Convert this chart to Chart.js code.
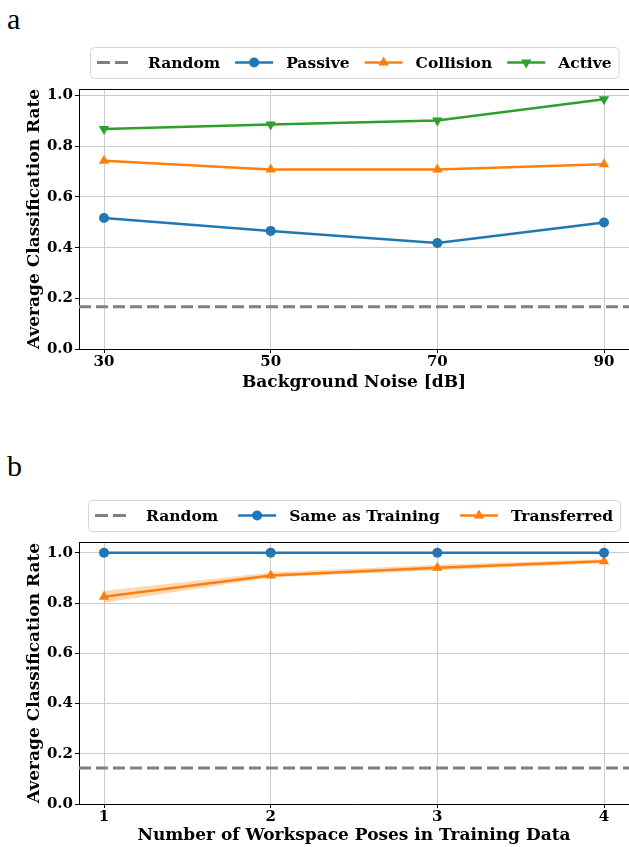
<!DOCTYPE html>
<html><head><meta charset="utf-8">
<script src="https://cdn.jsdelivr.net/npm/chart.js@4.4.1/dist/chart.umd.min.js"></script>
<style>
html,body{margin:0;padding:0;background:#fff;width:629px;height:847px;overflow:hidden;}
.panel{position:absolute;left:0;width:629px;}
.lbl{position:absolute;left:7px;font-family:"Liberation Serif",serif;font-size:30px;color:#000;line-height:1;}
</style></head><body>
<div class="lbl" style="top:4px">a</div>
<div class="panel" style="top:0;height:400px"><canvas id="ca"></canvas></div>
<div class="lbl" style="top:451px">b</div>
<div class="panel" style="top:440px;height:407px"><canvas id="cb"></canvas></div>
<script>
// ---------- data ----------
const noiseLevels = [30, 50, 70, 90];
const passiveRate = [0.517, 0.466, 0.418, 0.499];
const collisionRate = [0.743, 0.708, 0.708, 0.729];
const activeRate = [0.868, 0.886, 0.902, 0.986];
const randomRateA = 1 / 6;
const noiseTicks = [30, 50, 70, 90];
const noiseRange = [27, 93];

const poseCounts = [1, 2, 3, 4];
const sameRate = [1.0, 1.0, 1.0, 1.0];
const transferredRate = [0.825, 0.910, 0.940, 0.966];
const transferredLow = [0.801, 0.902, 0.931, 0.958];
const transferredHigh = [0.849, 0.922, 0.952, 0.974];
const randomRateB = 1 / 7;
const poseTicks = [1, 2, 3, 4];
const poseRange = [0.85, 4.15];

const rateTicks = [0, 0.2, 0.4, 0.6, 0.8, 1.0];
const rateMaxA = 1.026;
const rateMaxB = 1.043;

// ---------- style ----------
const C_BLUE = '#1f77b4', C_ORANGE = '#ff7f0e', C_GREEN = '#2ca02c', C_GRAY = '#808080';
const FAM = '"DejaVu Serif", serif';
const tickFont = {family: FAM, size: 15, weight: 'bold'};
const titleFont = {family: FAM, size: 17, weight: 'bold'};

const pts = (xs, ys) => xs.map((x, i) => ({x: x, y: ys[i]}));

function lineDs(label, xs, ys, color, style, rot, r) {
  return {label, data: pts(xs, ys), borderColor: color, backgroundColor: color,
    pointBackgroundColor: color, pointBorderWidth: 0, borderWidth: 2.5,
    pointStyle: style, pointRotation: rot || 0, pointRadius: r, pointHoverRadius: r,
    fill: false, tension: 0};
}
function randomDs(range, val) {
  return {label: 'Random', data: [{x: range[0], y: val}, {x: range[1], y: val}],
    borderColor: C_GRAY, backgroundColor: C_GRAY, borderWidth: 3, borderDash: [12, 5],
    pointRadius: 0, fill: false};
}

const frameTop = {
  id: 'frameTop',
  afterDraw(chart) {
    const {ctx, chartArea: a} = chart;
    ctx.save(); ctx.strokeStyle = '#000'; ctx.lineWidth = 1;
    ctx.beginPath(); ctx.moveTo(a.left, a.top + 0.5); ctx.lineTo(a.right, a.top + 0.5); ctx.stroke();
    ctx.restore();
  }
};

const boxLegend = {
  id: 'boxLegend',
  afterDraw(chart, args, o) {
    const ctx = chart.ctx, ca = chart.chartArea;
    ctx.save();
    ctx.font = o.font;
    const items = chart.data.datasets.filter(d => !d.legendHide);
    const widths = items.map(d => ctx.measureText(d.label).width);
    const total = o.pad * 2 + items.length * (o.handle + o.textPad) +
      widths.reduce((a, b) => a + b, 0) + (items.length - 1) * o.colSpacing;
    const left = Math.round((ca.left + ca.right) / 2 - total / 2);
    ctx.beginPath();
    ctx.roundRect(left + 0.5, o.top + 0.5, total, o.height, 4);
    ctx.fillStyle = 'rgba(255,255,255,0.85)'; ctx.fill();
    ctx.strokeStyle = '#d6d6d6'; ctx.lineWidth = 1; ctx.stroke();
    let x = left + o.pad;
    const cy = o.top + o.height / 2;
    items.forEach((d, i) => {
      ctx.strokeStyle = d.borderColor; ctx.lineWidth = d.borderWidth;
      const dashed = !!d.borderDash;
      ctx.setLineDash(dashed ? [13, 5] : []);
      ctx.beginPath(); ctx.moveTo(x, cy); ctx.lineTo(x + o.handle - (dashed ? 7 : 0), cy); ctx.stroke();
      ctx.setLineDash([]);
      if (d.pointRadius > 0) {
        ctx.fillStyle = d.borderColor;
        Chart.helpers.drawPoint(ctx, {pointStyle: d.pointStyle, radius: d.pointRadius,
          rotation: d.pointRotation || 0, borderWidth: 0}, x + o.handle / 2, cy);
      }
      ctx.fillStyle = '#000'; ctx.textBaseline = 'middle'; ctx.textAlign = 'left';
      ctx.fillText(d.label, x + o.handle + o.textPad, cy + 1);
      x += o.handle + o.textPad + widths[i] + o.colSpacing;
    });
    ctx.restore();
  }
};

function makeScales(xRange, xTicks, xTitle, yMax, xHeight, xTitlePad) {
  return {
    x: {type: 'linear', min: xRange[0], max: xRange[1],
      afterBuildTicks: s => { s.ticks = xTicks.map(v => ({value: v})); },
      afterFit: s => { s.height = xHeight; s.paddingLeft = 0; s.paddingRight = 0; },
      ticks: {font: tickFont, color: '#000', padding: 0, maxRotation: 0, autoSkip: false,
        callback: v => String(v)},
      grid: {color: '#cccccc', lineWidth: 1, tickLength: 4, tickColor: '#000', tickWidth: 1},
      border: {color: '#000', width: 1},
      title: {display: true, text: xTitle, font: titleFont, color: '#000',
        padding: {top: 0, bottom: xTitlePad}}
    },
    y: {type: 'linear', min: 0, max: yMax,
      afterBuildTicks: s => { s.ticks = rateTicks.map(v => ({value: v})); },
      afterFit: s => { s.width = 79; s.paddingTop = 0; s.paddingBottom = 0; },
      ticks: {font: tickFont, color: '#000', padding: 2, callback: v => v.toFixed(1)},
      grid: {color: '#cccccc', lineWidth: 1, tickLength: 4, tickColor: '#000', tickWidth: 1},
      border: {color: '#000', width: 1},
      title: {display: true, text: 'Average Classification Rate', font: titleFont, color: '#000',
        padding: {top: 24, bottom: 0}}
    }
  };
}

const legendOpts = (top, col) => ({top: top, height: 31, pad: 7, handle: 38, textPad: 13, colSpacing: col,
  font: 'bold 15.5px ' + FAM});

new Chart(document.getElementById('ca'), {
  type: 'line',
  data: {datasets: [
    randomDs(noiseRange, randomRateA),
    lineDs('Passive', noiseLevels, passiveRate, C_BLUE, 'circle', 0, 5),
    lineDs('Collision', noiseLevels, collisionRate, C_ORANGE, 'triangle', 0, 6),
    lineDs('Active', noiseLevels, activeRate, C_GREEN, 'triangle', 180, 6)
  ]},
  options: {
    responsive: true, maintainAspectRatio: false, animation: false,
    layout: {autoPadding: false, padding: {top: 89, right: 0, bottom: 0, left: 0}},
    scales: makeScales(noiseRange, noiseTicks, 'Background Noise [dB]', rateMaxA, 51, 7),
    plugins: {legend: {display: false}, tooltip: {enabled: false}, boxLegend: legendOpts(47, 15)}
  },
  plugins: [frameTop, boxLegend]
});

new Chart(document.getElementById('cb'), {
  type: 'line',
  data: {datasets: [
    randomDs(poseRange, randomRateB),
    lineDs('Same as Training', poseCounts, sameRate, C_BLUE, 'circle', 0, 5),
    lineDs('Transferred', poseCounts, transferredRate, C_ORANGE, 'triangle', 0, 6),
    {label: 'upper', legendHide: true, data: pts(poseCounts, transferredHigh), borderWidth: 0,
      borderColor: 'rgba(0,0,0,0)', pointRadius: 0, fill: false},
    {label: 'lower', legendHide: true, data: pts(poseCounts, transferredLow), borderWidth: 0,
      borderColor: 'rgba(0,0,0,0)', pointRadius: 0, fill: '-1', backgroundColor: 'rgba(255,127,14,0.3)'}
  ]},
  options: {
    responsive: true, maintainAspectRatio: false, animation: false,
    layout: {autoPadding: false, padding: {top: 102, right: 0, bottom: 0, left: 0}},
    scales: makeScales(poseRange, poseTicks, 'Number of Workspace Poses in Training Data', rateMaxB, 43, 1),
    plugins: {legend: {display: false}, tooltip: {enabled: false}, boxLegend: legendOpts(60, 20),
      filler: {propagate: false}}
  },
  plugins: [frameTop, boxLegend]
});
</script>
</body></html>
